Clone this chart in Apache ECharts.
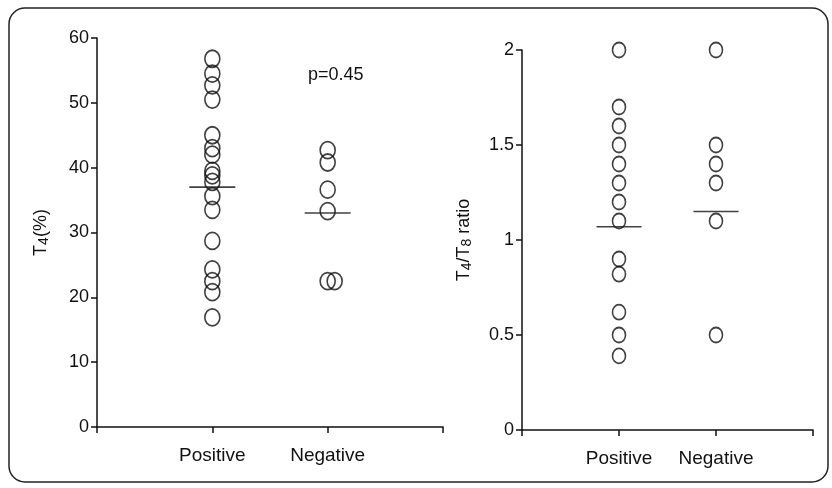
<!DOCTYPE html>
<html>
<head>
<meta charset="utf-8">
<script src="https://cdn.jsdelivr.net/npm/echarts@6/dist/echarts.min.js"></script>
<style>
html,body{margin:0;padding:0;background:#fff;}
#chart{width:832px;height:488px;}
</style>
</head>
<body>
<div id="chart"></div>
<script>
// ---- data ----
const categories = ['Positive', 'Negative'];
const t4Positive = [56.8, 54.5, 52.7, 50.5, 45.0, 43.0, 42.0, 39.5, 38.8, 37.8, 35.6, 33.5, 28.7, 24.3, 22.5, 20.8, 16.9];
const t4Negative = [42.7, 40.8, 36.6, 33.3, 22.5, 22.5];
const t4Means = [37.0, 33.0];
const ratioPositive = [2.0, 1.7, 1.6, 1.5, 1.4, 1.3, 1.2, 1.1, 0.9, 0.82, 0.62, 0.5, 0.39];
const ratioNegative = [2.0, 1.5, 1.4, 1.3, 1.1, 0.5];
const ratioMeans = [1.07, 1.15];
const pValueText = 'p=0.45';

// ---- styling ----
const FONT = '"Liberation Sans", Arial, Helvetica, sans-serif';
const negJitterPx = [0, 0, 0, 0, 0, 7];

function pts(vals, catIdx, jitter) {
  return vals.map((v, i) => {
    const d = { value: [catIdx + 1, v] };
    if (jitter && jitter[i]) d.symbolOffset = [jitter[i], 0];
    return d;
  });
}
function means(arr) { return arr.map((v, i) => [i + 1, v]); }

const circleStyle = { color: 'rgba(0,0,0,0)', borderColor: '#111', borderWidth: 1.7 };

function xAxisFor(gridIndex) {
  return {
    gridIndex, type: 'value', min: 0, max: 3, interval: 1,
    axisLine: { show: true, onZero: false, lineStyle: { color: '#111', width: 1.5 } },
    axisTick: { show: true, length: 6, lineStyle: { color: '#111', width: 1.5 } },
    axisLabel: { color: '#111', fontSize: 19, fontFamily: FONT, margin: 19,
      formatter: v => categories[v - 1] || '' },
    splitLine: { show: false }
  };
}

const option = {
  animation: false,
  backgroundColor: '#fff',
  grid: [
    { left: 97, top: 38, width: 346, bottom: 61 },
    { left: 522, top: 50, width: 291, bottom: 58 }
  ],
  xAxis: [xAxisFor(0), xAxisFor(1)],
  yAxis: [
    {
      gridIndex: 0, type: 'value', min: 0, max: 60, interval: 10,
      name: '{a|T}{s|4}{a|(%)}', nameLocation: 'middle', nameGap: 46, nameRotate: 90,
      nameTextStyle: { rich: {
        a: { fontSize: 18, fontFamily: FONT, color: '#111' },
        s: { fontSize: 14, fontFamily: FONT, color: '#111', padding: [6, 0, 0, 0] } } },
      axisLine: { show: true, lineStyle: { color: '#111', width: 1.5 } },
      axisTick: { show: true, length: 6, lineStyle: { color: '#111', width: 1.5 } },
      axisLabel: { color: '#111', fontSize: 18, fontFamily: FONT, margin: 8 },
      splitLine: { show: false }
    },
    {
      gridIndex: 1, type: 'value', min: 0, max: 2, interval: 0.5,
      name: '{a|T}{s|4}{a|/T}{s|8}{a| ratio}', nameLocation: 'middle', nameGap: 48, nameRotate: 90,
      nameTextStyle: { rich: {
        a: { fontSize: 18, fontFamily: FONT, color: '#111' },
        s: { fontSize: 14, fontFamily: FONT, color: '#111', padding: [6, 0, 0, 0] } } },
      axisLine: { show: true, lineStyle: { color: '#111', width: 1.5 } },
      axisTick: { show: true, length: 6, lineStyle: { color: '#111', width: 1.5 } },
      axisLabel: { color: '#111', fontSize: 18, fontFamily: FONT, margin: 8 },
      splitLine: { show: false }
    }
  ],
  series: [
    { type: 'scatter', xAxisIndex: 0, yAxisIndex: 0, symbol: 'circle', symbolSize: [15, 17],
      itemStyle: circleStyle, data: pts(t4Positive, 0) },
    { type: 'scatter', xAxisIndex: 0, yAxisIndex: 0, symbol: 'circle', symbolSize: [15, 17],
      itemStyle: circleStyle, data: pts(t4Negative, 1, negJitterPx) },
    { type: 'scatter', xAxisIndex: 0, yAxisIndex: 0, symbol: 'rect', symbolSize: [46, 1.6],
      itemStyle: { color: '#111' }, data: means(t4Means), z: 3 },
    { type: 'scatter', xAxisIndex: 1, yAxisIndex: 1, symbol: 'circle', symbolSize: [13, 15],
      itemStyle: circleStyle, data: pts(ratioPositive, 0) },
    { type: 'scatter', xAxisIndex: 1, yAxisIndex: 1, symbol: 'circle', symbolSize: [13, 15],
      itemStyle: circleStyle, data: pts(ratioNegative, 1) },
    { type: 'scatter', xAxisIndex: 1, yAxisIndex: 1, symbol: 'rect', symbolSize: [45, 1.6],
      itemStyle: { color: '#111' }, data: means(ratioMeans), z: 3 }
  ],
  graphic: [
    { type: 'rect', shape: { x: 9, y: 8, width: 819, height: 474, r: 16 },
      style: { fill: 'none', stroke: '#222', lineWidth: 1.5 }, z: -1 },
    { type: 'text', left: 308, top: 66,
      style: { text: pValueText, font: '18px ' + FONT, fill: '#111' } }
  ]
};

const chart = echarts.init(document.getElementById('chart'), null, { renderer: 'canvas' });
chart.setOption(option);
</script>
</body>
</html>
